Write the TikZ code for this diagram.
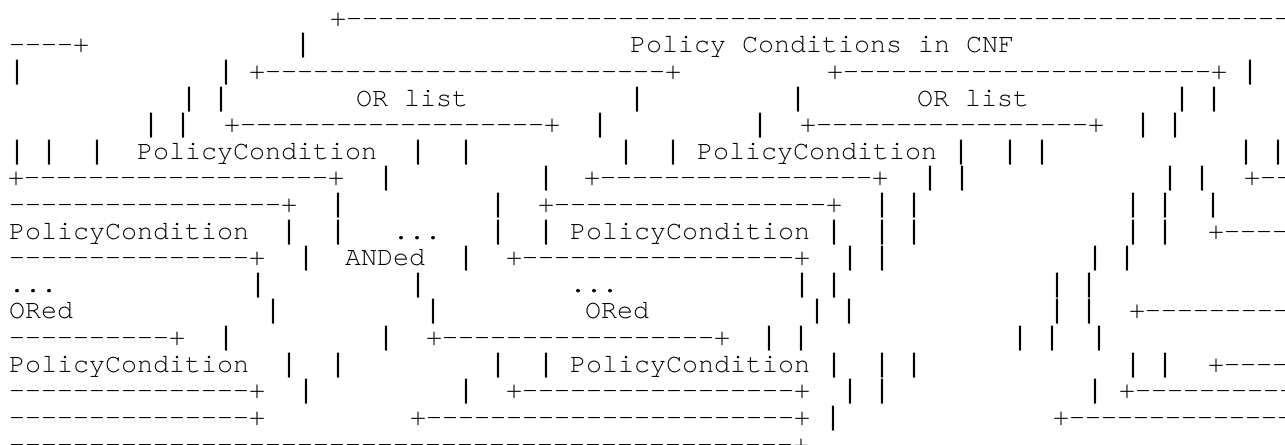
\documentclass[tikz,border=0pt]{standalone}
\usepackage{fontspec}
\newfontfamily\asciifont{texgyrecursor-regular.otf}
\newfontfamily\barfont{Liberation Mono}
\ExplSyntaxOn
\cs_new:Npn \dashes #1 {\prg_replicate:nn{#1}{-\kern0pt}}
\ExplSyntaxOff
\newcommand\B{{\barfont|}}
\tikzset{
  segtext/.style={anchor=base west, inner sep=0pt, outer sep=0pt, text=black,
    font=\asciifont\fontsize{20}{20}\selectfont}
}
% #1 row, #2 centre of first character cell (px), #3 text
\newcommand\seg[3]{\node[segtext] (r#1x#2) at ({#2-8},{26.4+26.6*#1}) {#3};}
\begin{document}
\begin{tikzpicture}[x=0.75pt,y=-0.75pt]
\useasboundingbox (0,0) rectangle (1285,445);
\fill[white] (0,0) rectangle (1285,445);
\clip (0,0) rectangle (1285,445);
% row 0
\seg{0}{338}{+\dashes{59}}
% row 1
\seg{1}{17}{\dashes{4}+}
\seg{1}{303}{\B}
\seg{1}{638}{Policy Conditions in CNF}
% row 2
\seg{2}{17}{\B}
\seg{2}{226}{\B}
\seg{2}{257}{+\dashes{25}+}
\seg{2}{835}{+\dashes{23}+}
\seg{2}{1250}{\B}
% row 3
\seg{3}{189}{\B\ \B}
\seg{3}{364}{OR list}
\seg{3}{637}{\B}
\seg{3}{798}{\B}
\seg{3}{925}{OR list}
\seg{3}{1182}{\B\ \B}
% row 4
\seg{4}{151}{\B\ \B}
\seg{4}{232}{+\dashes{19}+}
\seg{4}{600}{\B}
\seg{4}{760}{\B}
\seg{4}{808}{+\dashes{17}+}
\seg{4}{1143}{\B\ \B}
% row 5
\seg{5}{17}{\B\ \B}
\seg{5}{97}{\B}
\seg{5}{145}{PolicyCondition}
\seg{5}{418}{\B}
\seg{5}{466}{\B}
\seg{5}{626}{\B}
\seg{5}{673}{\B\ PolicyCondition \B}
\seg{5}{1010}{\B\ \B}
\seg{5}{1246}{\B\ \B}
% row 6
\seg{6}{16}{+\dashes{19}+}
\seg{6}{386}{\B}
\seg{6}{546}{\B}
\seg{6}{592}{+\dashes{17}+}
\seg{6}{930}{\B\ \B}
\seg{6}{1170}{\B\ \B}
\seg{6}{1252}{+\dashes{2}}
% row 7
\seg{7}{17}{\dashes{17}+}
\seg{7}{338}{\B}
\seg{7}{498}{\B}
\seg{7}{546}{+\dashes{17}+}
\seg{7}{882}{\B\ \B}
\seg{7}{1133}{\B\ \B}
\seg{7}{1213}{\B}
% row 8
\seg{8}{17}{PolicyCondition}
\seg{8}{289}{\B}
\seg{8}{338}{\B}
\seg{8}{401}{...}
\seg{8}{498}{\B}
\seg{8}{546}{\B\ PolicyCondition \B}
\seg{8}{882}{\B\ \B}
\seg{8}{1133}{\B\ \B}
\seg{8}{1216}{+\dashes{4}}
% row 9
\seg{9}{17}{\dashes{15}+}
\seg{9}{306}{\B}
\seg{9}{353}{ANDed}
\seg{9}{466}{\B}
\seg{9}{514}{+\dashes{17}+}
\seg{9}{850}{\B\ \B}
\seg{9}{1095}{\B\ \B}
% row 10
\seg{10}{17}{...}
\seg{10}{258}{\B}
\seg{10}{418}{\B}
\seg{10}{578}{...}
\seg{10}{802}{\B\ \B}
\seg{10}{1057}{\B\ \B}
% row 11
\seg{11}{17}{ORed}
\seg{11}{273}{\B}
\seg{11}{433}{\B}
\seg{11}{593}{ORed}
\seg{11}{817}{\B\ \B}
\seg{11}{1057}{\B\ \B}
\seg{11}{1137}{+\dashes{9}}
% row 12
\seg{12}{17}{\dashes{10}+}
\seg{12}{226}{\B}
\seg{12}{386}{\B}
\seg{12}{434}{+\dashes{17}+}
\seg{12}{769}{\B\ \B}
\seg{12}{1020}{\B\ \B}
\seg{12}{1099}{\B}
% row 13
\seg{13}{17}{PolicyCondition}
\seg{13}{289}{\B}
\seg{13}{338}{\B}
\seg{13}{498}{\B}
\seg{13}{546}{\B\ PolicyCondition \B}
\seg{13}{882}{\B\ \B}
\seg{13}{1133}{\B\ \B}
\seg{13}{1216}{+\dashes{4}}
% row 14
\seg{14}{17}{\dashes{15}+}
\seg{14}{306}{\B}
\seg{14}{466}{\B}
\seg{14}{514}{+\dashes{17}+}
\seg{14}{850}{\B\ \B}
\seg{14}{1095}{\B\ +\dashes{10}}
% row 15
\seg{15}{17}{\dashes{15}+}
\seg{15}{418}{+\dashes{23}+}
\seg{15}{833}{\B}
\seg{15}{1061}{+\dashes{14}}
% row 16
\seg{16}{17}{\dashes{49}+}
\end{tikzpicture}
\end{document}
